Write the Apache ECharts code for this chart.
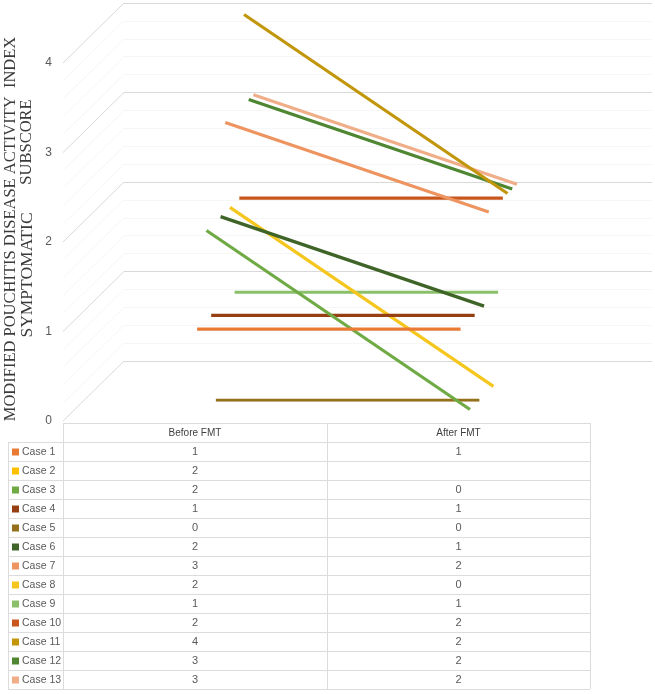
<!DOCTYPE html>
<html>
<head>
<meta charset="utf-8">
<script src="https://cdn.jsdelivr.net/npm/echarts@6/dist/echarts.min.js"></script>
<style>html,body{margin:0;padding:0;background:#fff;}#c{width:655px;height:694px;}</style>
</head>
<body>
<div id="c"></div>
<script>
// ---- data ----
const categories = ['Before FMT', 'After FMT'];
const caseNames = ['Case 1','Case 2','Case 3','Case 4','Case 5','Case 6','Case 7','Case 8','Case 9','Case 10','Case 11','Case 12','Case 13'];
const beforeValues = [1, 2, 2, 1, 0, 2, 3, 2, 1, 2, 4, 3, 3];
const afterValues  = [1, null, 0, 1, 0, 1, 2, 0, 1, 2, 2, 2, 2];
const yTicks = [0, 1, 2, 3, 4];
const caseColors = ['#E97B35','#FFC000','#6FAA45','#963F12','#94701A','#3F6428','#EE9460','#F5C61E','#8AC06A','#C9561D','#C2960B','#4E8631','#F0AE88'];
const yTitle1 = 'MODIFIED POUCHITIS DISEASE ACTIVITY  INDEX';
const yTitle2Words = ['SYMPTOMATIC', 'SUBSCORE'];

// ---- layout ----
const FL = 63, FT = 63, FW = 527, FH = 358;   // front plane
const DX = 61, DY = 60;                        // total depth offset
const n = caseNames.length;
const dx = DX / n, dy = DY / n;
const TB_TOP = 423, ROW_H = 19, LEG_L = 8, COL1 = 327, TB_R = 590;
const gridC = '#d9d9d9', minorC = '#f6f6f6';

const grids = [], xAxes = [], yAxes = [], series = [];
grids.push({left: FL, top: FT, width: FW, height: FH});
grids.push({left: FL + DX, top: FT - DY, width: FW + 1, height: FH});
for (let k = 0; k < n; k++) {
  grids.push({left: FL + (k + 0.5) * dx, top: FT - (k + 0.5) * dy, width: FW, height: FH});
}
grids.forEach((g, i) => {
  xAxes.push({type: 'category', gridIndex: i, data: categories, boundaryGap: true, show: false});
  yAxes.push({
    type: 'value', gridIndex: i, min: 0, max: 4, interval: 1,
    show: i <= 1,
    axisLine: {show: false}, axisTick: {show: false},
    axisLabel: {show: i === 0, color: '#595959', fontSize: 12, fontFamily: 'Liberation Sans', margin: 11},
    splitLine: {show: i === 1, lineStyle: {color: gridC, width: 1}},
    minorTick: {show: false, splitNumber: 5},
    minorSplitLine: {show: i === 1, lineStyle: {color: minorC, width: 1}}
  });
});

series.push({
  type: 'custom', xAxisIndex: 0, yAxisIndex: 0, silent: true, z: 1,
  data: yTicks,
  renderItem: function (params, api) {
    const v = api.value(0);
    const x0 = params.coordSys.x;
    const children = [];
    const steps = v < 4 ? 5 : 1;
    for (let s = steps - 1; s >= 0; s--) {
      const y = api.coord([0, v + s * 0.2])[1];
      children.push({type: 'line', shape: {x1: x0, y1: y, x2: x0 + DX, y2: y - DY},
        style: {stroke: s === 0 ? gridC : minorC, lineWidth: 1}});
    }
    return {type: 'group', children: children};
  }
});

for (let k = 0; k < n; k++) {
  series.push({
    name: caseNames[k], type: 'line', xAxisIndex: k + 2, yAxisIndex: k + 2,
    data: [beforeValues[k], afterValues[k]],
    symbol: 'none', showSymbol: false, silent: true, z: 40 - k,
    lineStyle: {color: caseColors[k], width: 3.2, cap: 'butt'}
  });
}

// ---- data table ----
const graphics = [];
const rowsBottom = TB_TOP + ROW_H * (n + 1);
function hline(x1, x2, y) { graphics.push({type: 'line', shape: {x1: x1, y1: y, x2: x2, y2: y}, style: {stroke: '#dcdcdc', lineWidth: 1}, silent: true}); }
function vline(x, y1, y2) { graphics.push({type: 'line', shape: {x1: x, y1: y1, x2: x, y2: y2}, style: {stroke: '#dcdcdc', lineWidth: 1}, silent: true}); }
hline(FL, TB_R, TB_TOP + 0.5);
for (let i = 1; i <= n + 1; i++) hline(LEG_L, TB_R, TB_TOP + ROW_H * i + 0.5);
vline(LEG_L + 0.5, TB_TOP + ROW_H, rowsBottom);
vline(FL + 0.5, TB_TOP, rowsBottom);
vline(COL1 + 0.5, TB_TOP, rowsBottom);
vline(TB_R + 0.5, TB_TOP, rowsBottom);
const colCenters = [(FL + COL1) / 2, (COL1 + TB_R) / 2];
function txt(x, y, s, font, fill, align, rot) {
  const o = {type: 'text', x: x, y: y, silent: true,
    style: {text: s, fill: fill, font: font, align: align, verticalAlign: 'middle', textAlign: align, textVerticalAlign: 'middle'}};
  if (rot) o.rotation = rot;
  graphics.push(o);
}
categories.forEach((c, j) => txt(colCenters[j], TB_TOP + ROW_H / 2 + 0.5, c, '10px "Liberation Sans"', '#404040', 'center'));
for (let k = 0; k < n; k++) {
  const yc = TB_TOP + ROW_H * (k + 1) + ROW_H / 2 + 0.5;
  graphics.push({type: 'rect', shape: {x: 12, y: yc - 3.5, width: 7, height: 7}, style: {fill: caseColors[k]}, silent: true});
  txt(22, yc, caseNames[k], '10.5px "Liberation Sans"', '#595959', 'left');
  [beforeValues[k], afterValues[k]].forEach((v, j) => {
    if (v === null) return;
    txt(colCenters[j], yc, String(v), '11px "Liberation Sans"', '#595959', 'center');
  });
}
// y-axis title
txt(11, 229, yTitle1, '16.5px "Liberation Serif"', '#3a3a3a', 'center', Math.PI / 2);
txt(27, 275, yTitle2Words[0], '17.5px "Liberation Serif"', '#3a3a3a', 'center', Math.PI / 2);
txt(27, 142, yTitle2Words[1], '16.5px "Liberation Serif"', '#3a3a3a', 'center', Math.PI / 2);

const chart = echarts.init(document.getElementById('c'), null, {renderer: 'canvas'});
chart.setOption({
  animation: false,
  backgroundColor: '#ffffff',
  grid: grids, xAxis: xAxes, yAxis: yAxes, series: series,
  graphic: graphics
});
</script>
</body>
</html>
